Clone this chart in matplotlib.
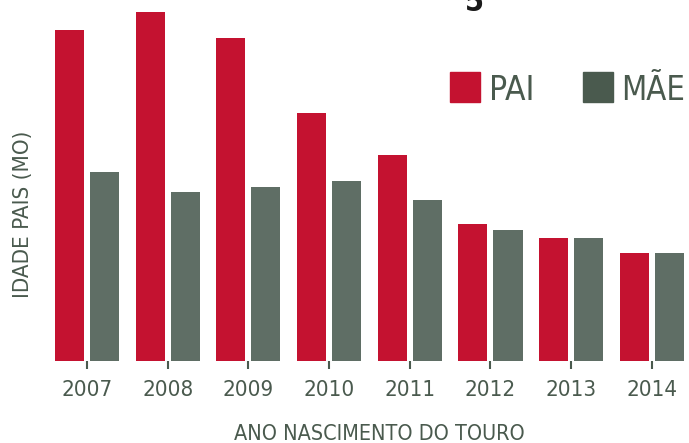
import matplotlib
matplotlib.use("Agg")
import matplotlib.pyplot as plt
import numpy as np

plt.rcParams['font.family'] = ['DejaVu Sans']
plt.rcParams['font.stretch'] = 'condensed'

# idade media dos pais (meses) por ano de nascimento do touro
anos = ['2007', '2008', '2009', '2010', '2011', '2012', '2013', '2014']
pai = [100.0, 105.4, 97.6, 74.9, 62.2, 41.4, 37.2, 32.6]
mae = [57.1, 51.1, 52.6, 54.4, 48.6, 39.6, 37.2, 32.6]

red = '#C41230'
grey = '#5F6E65'
txt = '#4A5A4E'

fig = plt.figure(figsize=(6.89, 4.43), dpi=100)
ax = fig.add_axes([45 / 689, 82 / 443, 644 / 689, 361 / 443])

x = np.arange(len(anos))
w = 0.36
off = 0.217
ax.bar(x - off, pai, width=w, color=red)
ax.bar(x + off, mae, width=w, color=grey)

ax.set_xlim(-0.52, 7.46)
ax.set_ylim(0, 109.06)
ax.set_yticks([])
ax.set_xticks(x)
ax.set_xticklabels(anos, fontsize=16, color=txt)
ax.tick_params(axis='x', length=6, width=1.5, color=txt, pad=8, direction='out')
for s in ax.spines.values():
    s.set_visible(False)

fig.text(23 / 689, 1 - 214 / 443, 'IDADE PAIS (MO)', rotation=90,
         ha='center', va='center', fontsize=16, color=txt)
fig.text(379 / 689, 1 - 434 / 443, 'ANO NASCIMENTO DO TOURO',
         ha='center', va='center', fontsize=15.5, color=txt)

# legenda manual
fig.patches.append(plt.Rectangle((450 / 689, 1 - 102 / 443), 30 / 689, 30 / 443,
                                 transform=fig.transFigure, color=red))
fig.text(489 / 689, 1 - 100 / 443, 'PAI', ha='left', va='baseline', fontsize=24, color=txt)
fig.patches.append(plt.Rectangle((583 / 689, 1 - 102 / 443), 30 / 689, 30 / 443,
                                 transform=fig.transFigure, color='#4A5A4E'))
fig.text(621 / 689, 1 - 100 / 443, 'MÃE', ha='left', va='baseline', fontsize=23.5, color=txt)

# resto do titulo cortado no topo
fig.text(474 / 689, 1 - 11 / 443, '5', ha='center', va='baseline', fontsize=22,
         fontweight='bold', color='#1a1a1a')

fig.savefig('out.png', dpi=100)
